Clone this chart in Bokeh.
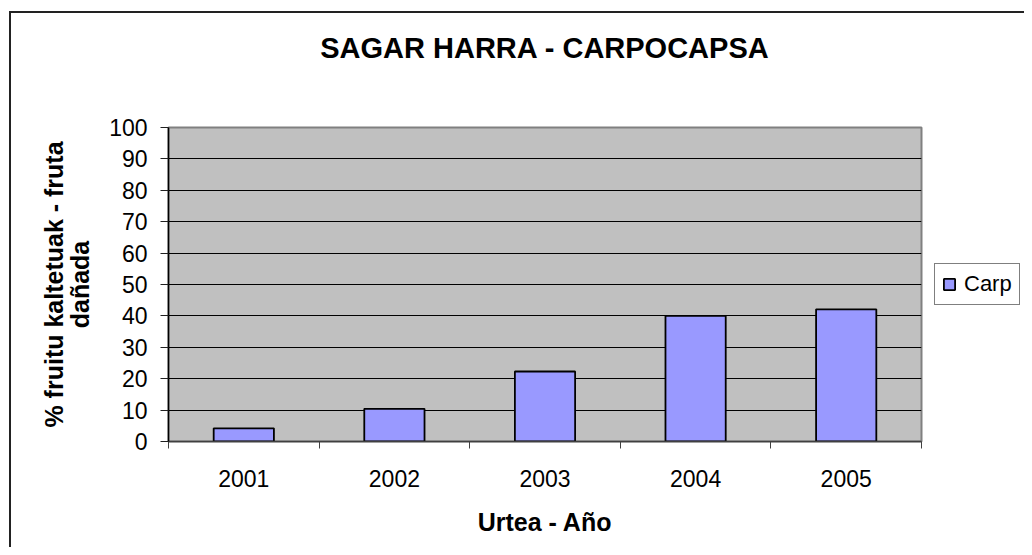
from bokeh.plotting import figure
from bokeh.models import FixedTicker, Legend, LegendItem, Range1d, InlineStyleSheet, Title
from bokeh.layouts import column
from bokeh.embed import file_html
from bokeh.resources import INLINE

# ---- data ----
years = ["2001", "2002", "2003", "2004", "2005"]
carp = [4.2, 10.4, 22.3, 40.0, 42.1]
y_ticks = list(range(0, 101, 10))
series_name = "Carp"
title_text = "SAGAR HARRA - CARPOCAPSA"
x_label = "Urtea - Año"
y_label = "% fruitu kaltetuak - fruta\ndañada"

FONT = "Liberation Sans"
BAR = "#9999ff"

p = figure(frame_width=753, frame_height=314, output_backend="svg", toolbar_location=None,
           x_range=Range1d(0, len(years)), y_range=Range1d(0, 100),
           min_border_left=168, min_border_right=100, min_border_top=127,
           min_border_bottom=106)

p.background_fill_color = "#c0c0c0"
p.border_fill_color = "white"
p.outline_line_color = "#808080"
p.outline_line_width = 2

xs = [i + 0.5 for i in range(len(years))]
r = p.vbar(x=xs, top=carp, width=0.4, bottom=0, fill_color=BAR,
           line_color="black", line_width=1.8)

# title (outermost) + an empty spacer band between it and the plot area
p.title.text = title_text
p.title.align = "center"
p.title.standoff = 10
p.title.text_color = "black"
p.title.text_font = FONT
p.title.text_font_size = "29px"
p.title.text_font_style = "bold"
p.add_layout(Title(text=" ", text_font_size="1px", standoff=56, align="center"), "above")

# grids
p.xgrid.grid_line_color = None
p.ygrid.ticker = FixedTicker(ticks=y_ticks)
p.ygrid.grid_line_color = "black"
p.ygrid.grid_line_width = 1

# x axis
xa = p.xaxis[0]
xa.ticker = FixedTicker(ticks=xs, minor_ticks=list(range(len(years) + 1)))
xa.major_label_overrides = {x: y for x, y in zip(xs, years)}
xa.major_tick_line_color = None
xa.major_tick_out = 0
xa.major_tick_in = 0
xa.minor_tick_line_color = "#404040"
xa.minor_tick_out = 7
xa.minor_tick_in = 0
xa.axis_line_color = "#404040"
xa.axis_line_width = 1.5
xa.major_label_text_color = "black"
xa.major_label_text_font = FONT
xa.major_label_text_font_size = "23px"
xa.major_label_standoff = 21
xa.axis_label = x_label
xa.axis_label_text_color = "black"
xa.axis_label_text_font = FONT
xa.axis_label_text_font_size = "25px"
xa.axis_label_text_font_style = "bold"
xa.axis_label_standoff = 18

# y axis
ya = p.yaxis[0]
ya.ticker = FixedTicker(ticks=y_ticks)
ya.major_tick_out = 8
ya.major_tick_in = 0
ya.major_tick_line_color = "#202020"
ya.minor_tick_line_color = None
ya.axis_line_color = "black"
ya.axis_line_width = 1.5
ya.major_label_text_color = "black"
ya.major_label_text_font = FONT
ya.major_label_text_font_size = "23px"
ya.major_label_standoff = 13
ya.axis_label = y_label
ya.axis_label_text_color = "black"
ya.axis_label_text_font = FONT
ya.axis_label_text_font_size = "25px"
ya.axis_label_text_font_style = "bold"
ya.axis_label_text_line_height = 0.95
ya.axis_label_standoff = 12

# legend in the right side panel, vertically centred on the plot area
legend = Legend(items=[LegendItem(label=series_name, renderers=[r])],
                location="center_left", orientation="vertical",
                label_text_font=FONT, label_text_font_size="22px",
                label_text_color="black",
                glyph_width=14, glyph_height=14, label_standoff=8,
                padding=7, margin=13, border_line_color="black",
                border_line_width=1, background_fill_color="white",
                background_fill_alpha=1)
p.add_layout(legend, "right")

# outer chart border (only its left/top edges are visible in the reference)
frame_css = InlineStyleSheet(css="""
:host { position: relative; }
:host::before {
  content: ""; position: absolute; left: 9px; top: 11px;
  width: 1015px; height: 536px;
  border: 0 none;
  border-left: 2px solid #222; border-top: 2px solid #222;
  border-right: 0 none !important; border-bottom: 0 none !important;
  box-sizing: border-box; pointer-events: none; z-index: 5;
}
""")
layout = column(p, stylesheets=[frame_css])

open("out.html", "w").write(file_html(layout, INLINE))
